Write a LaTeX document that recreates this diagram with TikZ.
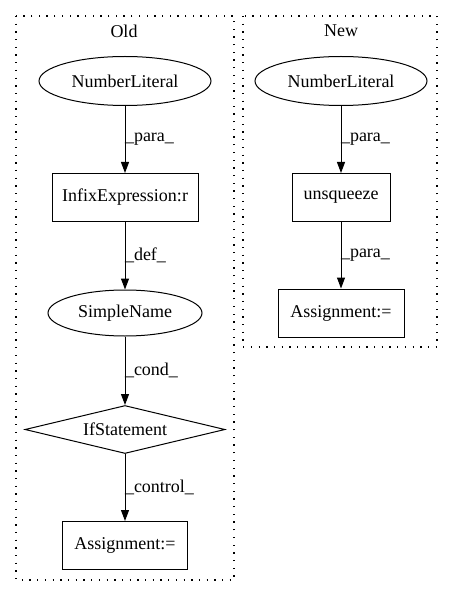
\documentclass[tikz,border=0pt]{standalone}
\usepackage{fontspec}
\setmainfont{Liberation Serif}
\usetikzlibrary{shapes.geometric, arrows.meta, positioning}
\tikzstyle{box} = [rectangle, draw=black, line width=1pt, minimum width=146pt, minimum height=48pt, inner sep=0pt, text centered]
\tikzstyle{oval} = [ellipse, draw=black, line width=1pt, minimum width=172pt, minimum height=49pt, inner sep=0pt, text centered]
\tikzstyle{decision} = [diamond, draw=black, line width=1pt, minimum width=200pt, minimum height=48pt, aspect=4.17, inner sep=0pt, text centered]
\tikzstyle{cluster} = [draw=black, line width=1.2pt, dash pattern=on 1.3pt off 6.4pt]
\tikzstyle{arrow} = [line width=1pt, -{Triangle[length=11pt, width=8pt]}]
\tikzstyle{elabel} = [right, inner sep=0pt, xshift=-0.5pt]

\begin{document}
\begin{tikzpicture}[x=1pt, y=-1pt, font=\fontsize{18}{20}\selectfont]
\useasboundingbox (0,0) rectangle (453,596);

% Clusters
\draw[cluster] (16,16) rectangle (234,580);
\node (old_title) at (124,31) {Old};
\draw[cluster] (243,16) rectangle (437,347);
\node (new_title) at (341,31) {New};

% OLD
\node[oval] (old_num) at (125,81) {NumberLiteral};
\node[box] (old_infix) at (125,197.5) {InfixExpression:r};
\node[oval, minimum width=154pt, minimum height=46pt] (old_name) at (125,313) {SimpleName};
\node[decision] (old_if) at (125,429.5) {IfStatement};
\node[box, minimum width=125pt] (old_assign) at (125,545.5) {Assignment:=};

\draw[arrow] (old_num) -- node[elabel] {\_para\_} (old_infix);
\draw[arrow] (old_infix) -- node[elabel] {\_def\_} (old_name);
\draw[arrow] (old_name) -- node[elabel] {\_cond\_} (old_if);
\draw[arrow] (old_if) -- node[elabel] {\_control\_} (old_assign);

% NEW
\node[oval] (new_num) at (341,81) {NumberLiteral};
\node[box, minimum width=98pt] (new_unsq) at (341,197.5) {unsqueeze};
\node[box, minimum width=126pt] (new_assign) at (341,313) {Assignment:=};

\draw[arrow] (new_num) -- node[elabel] {\_para\_} (new_unsq);
\draw[arrow] (new_unsq) -- node[elabel] {\_para\_} (new_assign);

\end{tikzpicture}
\end{document}
